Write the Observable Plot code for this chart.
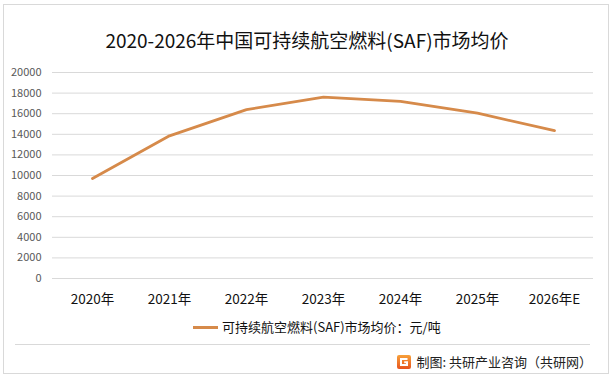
<!DOCTYPE html>
<html>
<head>
<meta charset="utf-8">
<script src="https://cdn.jsdelivr.net/npm/d3@7"></script>
<script src="https://cdn.jsdelivr.net/npm/@observablehq/plot@0.6"></script>
<style>
  html, body { margin: 0; padding: 0; background: #fff; }
  #wrap { position: relative; width: 614px; height: 378px; overflow: hidden; font-family: "Noto Sans CJK SC", "Noto Sans", sans-serif; }
  .abs { position: absolute; }
</style>
</head>
<body>
<div id="wrap"></div>
<script>
const years = ["2020年", "2021年", "2022年", "2023年", "2024年", "2025年", "2026年E"];
const prices = [9700, 13850, 16400, 17600, 17200, 16050, 14350];
const yTicks = [0, 2000, 4000, 6000, 8000, 10000, 12000, 14000, 16000, 18000, 20000];
const titleText = "2020-2026年中国可持续航空燃料(SAF)市场均价";
const legendText = "可持续航空燃料(SAF)市场均价：元/吨";
const sourceText = "制图: 共研产业咨询（共研网）";
const lineColor = "#D68A4A";

const data = years.map((y, i) => ({year: y, price: prices[i]}));
const wrap = document.getElementById("wrap");

// border
const border = document.createElement("div");
border.className = "abs";
Object.assign(border.style, {left: "3px", top: "4px", width: "604px", height: "368px", border: "1px solid #d9d9d9"});
wrap.appendChild(border);

// title
const title = document.createElement("div");
title.className = "abs";
Object.assign(title.style, {left: "0px", top: "28px", width: "614px", textAlign: "center", fontSize: "19px", lineHeight: "24px", color: "#111"});
title.textContent = titleText;
wrap.appendChild(title);

// plot
const chart = Plot.plot({
  width: 614,
  height: 250,
  marginLeft: 52,
  marginRight: 21,
  marginTop: 12,
  marginBottom: 32,
  style: {background: "transparent", fontFamily: "'Noto Sans CJK SC', sans-serif", overflow: "visible"},
  x: {type: "point", domain: years, padding: 0.5, label: null},
  y: {domain: [0, 20000], label: null},
  marks: [
    Plot.ruleY(yTicks, {stroke: "#d9d9d9", strokeWidth: 1}),
    Plot.axisY({ticks: yTicks, tickSize: 0, tickPadding: 11, tickFormat: d => String(d), fontSize: 11, fill: "#595959"}),
    Plot.axisX({tickSize: 0, tickPadding: 16, fontSize: 13.5, fill: "#111"}),
    Plot.line(data, {x: "year", y: "price", stroke: lineColor, strokeWidth: 2.8, strokeLinejoin: "round", strokeLinecap: "round"})
  ]
});
chart.style.position = "absolute";
chart.style.left = "0px";
chart.style.top = "60px";
wrap.appendChild(chart);

// legend
const legend = document.createElement("div");
legend.className = "abs";
Object.assign(legend.style, {left: "193px", top: "318px", height: "18px", display: "flex", alignItems: "center", fontSize: "13px", lineHeight: "18px", color: "#111", whiteSpace: "nowrap"});
legend.innerHTML = `<span style="display:inline-block;width:25px;height:3px;background:${lineColor};margin-right:4px"></span><span>${legendText}</span>`;
wrap.appendChild(legend);

// separator
const sep = document.createElement("div");
sep.className = "abs";
Object.assign(sep.style, {left: "15px", top: "344px", width: "575px", height: "1px", background: "#d9d9d9"});
wrap.appendChild(sep);

// source
const src = document.createElement("div");
src.className = "abs";
Object.assign(src.style, {right: "22px", top: "353px", height: "18px", display: "flex", alignItems: "center", fontSize: "13px", lineHeight: "18px", color: "#222", whiteSpace: "nowrap"});
src.innerHTML = `<svg width="14" height="14" viewBox="0 0 14 14" style="margin-right:5px"><defs><linearGradient id="lg" x1="0" y1="0" x2="0" y2="1"><stop offset="0" stop-color="#f7a13a"/><stop offset="1" stop-color="#e8541e"/></linearGradient></defs><rect x="0" y="0" width="14" height="14" rx="2" fill="url(#lg)"/><path d="M10.5 4 H4 V10 H10 V7.2 H7.2" fill="none" stroke="#fff" stroke-width="2"/></svg><span>${sourceText}</span>`;
wrap.appendChild(src);
</script>
</body>
</html>
